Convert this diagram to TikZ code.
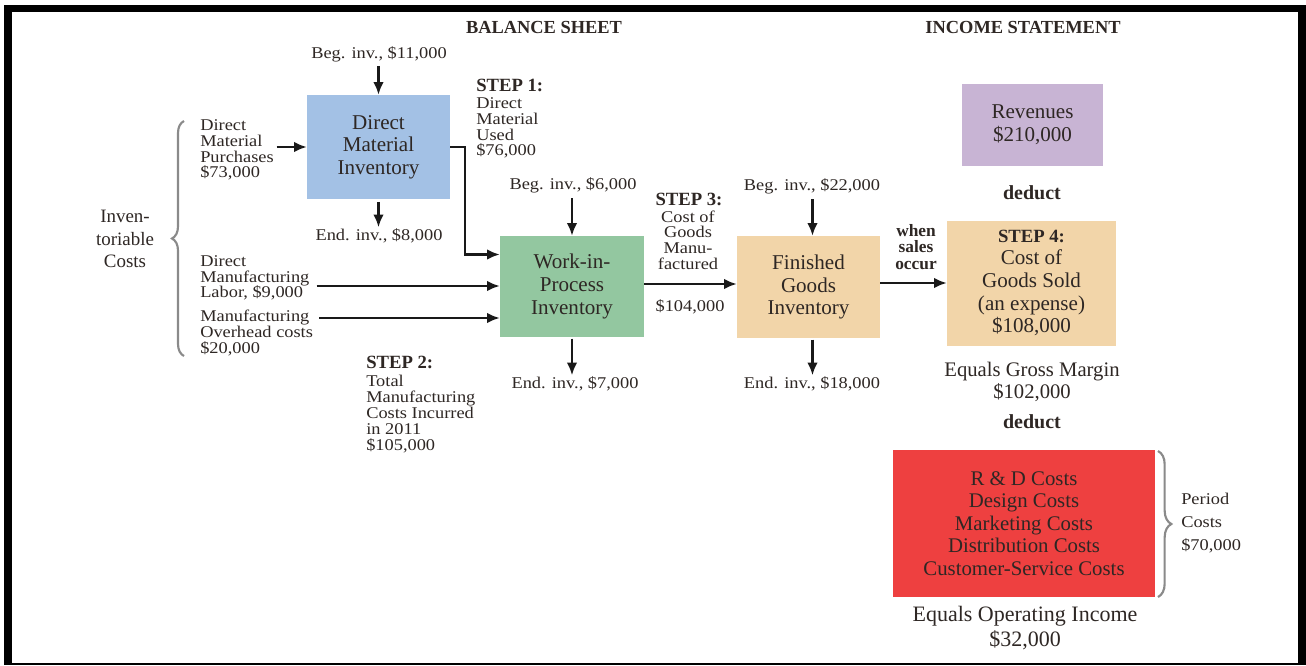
\documentclass[tikz,border=0pt]{standalone}
\usepackage{fontspec}
\setmainfont{Liberation Serif}
\newfontfamily\lblfont[FakeStretch=1.12]{Liberation Serif}
\usetikzlibrary{arrows.meta,decorations.pathreplacing,calc}
\definecolor{txt}{HTML}{2E2724}
\definecolor{dmblue}{HTML}{A3C1E5}
\definecolor{wipgreen}{HTML}{93C7A0}
\definecolor{fgtan}{HTML}{F2D5A9}
\definecolor{revpurple}{HTML}{C8B4D4}
\definecolor{pcred}{HTML}{EE4040}
\definecolor{bracegray}{HTML}{8A8A8A}
\begin{document}
\begin{tikzpicture}[x=0.75pt,y=-0.75pt,
  lbl/.style={font=\lblfont\fontsize{12.3}{11.8}\selectfont, text=txt, align=left, inner sep=0pt},
  clbl/.style={lbl, align=center},
  boxtext/.style={font=\fontsize{15.8}{17}\selectfont, text=txt, align=center, inner sep=0pt},
  hdr/.style={font=\bfseries\fontsize{13.8}{14}\selectfont, text=txt, inner sep=0pt},
  stephdr/.style={font=\bfseries\fontsize{14}{14}\selectfont, text=txt, inner sep=0pt},
  dedstyle/.style={font=\bfseries\fontsize{15}{15}\selectfont, text=txt, inner sep=0pt},
  arr/.style={line width=1.8pt, draw=black!90, -{Latex[length=9.5pt,width=8pt]}},
  bracestyle/.style={draw=bracegray, line width=1.6pt, decorate},
]
\useasboundingbox (0,0) rectangle (1306,665);
% frame
\fill[black] (4,5) rectangle (1306,665);
\fill[white] (12,12) rectangle (1298,663);

% headers
\node[hdr] (bs) at (544,27) {BALANCE SHEET};
\node[hdr] (is) at (1023,27) {INCOME STATEMENT};

% boxes
\node[boxtext, fill=dmblue, minimum width=107.25pt, minimum height=78pt] (dmi) at (378.5,147) {Direct\\Material\\Inventory};
\node[boxtext, fill=wipgreen, minimum width=108pt, minimum height=75.75pt] (wip) at (572,286.5) {Work-in-\\Process\\Inventory};
\node[boxtext, fill=fgtan, minimum width=107.25pt, minimum height=76.5pt] (fg) at (808.5,287) {Finished\\Goods\\Inventory};
\node[boxtext, fill=fgtan, minimum width=126.75pt, minimum height=93.75pt] (cogs) at (1031.5,283) {{\bfseries\fontsize{14}{17}\selectfont STEP 4:}\\Cost of\\Goods Sold\\(an expense)\\\$108,000};
\node[boxtext, fill=revpurple, minimum width=105.75pt, minimum height=61.5pt] (rev) at (1032.5,125) {Revenues\\\$210,000};
\node[boxtext, fill=pcred, minimum width=196.5pt, minimum height=110.25pt, font=\fontsize{15.6}{16.9}\selectfont] (pc) at (1024,523.5) {R \& D Costs\\Design Costs\\Marketing Costs\\Distribution Costs\\Customer-Service Costs};

% inventory labels
\node[clbl] (beg1) at (379,54) {Beg. inv., \$11,000};
\node[clbl] (end1) at (379,236) {End. inv., \$8,000};
\node[clbl] (beg2) at (573,185) {Beg. inv., \$6,000};
\node[clbl] (end2) at (575,384) {End. inv., \$7,000};
\node[clbl] (beg3) at (812,186) {Beg. inv., \$22,000};
\node[clbl] (end3) at (812,384) {End. inv., \$18,000};

% left labels
\node[lbl, anchor=west] (dmp) at (200,150) {Direct\\Material\\Purchases\\\$73,000};
\node[lbl, anchor=west] (dml) at (200,278) {Direct\\Manufacturing\\Labor, \$9,000};
\node[lbl, anchor=west] (moh) at (200,333) {Manufacturing\\Overhead costs\\\$20,000};
\node[font=\fontsize{14.2}{16.8}\selectfont, text=txt, align=center, inner sep=0pt] (inv) at (125,239) {Inven-\\toriable\\Costs};

% steps
\node[stephdr, anchor=west] (s1h) at (476,85) {STEP 1:};
\node[lbl, anchor=west] (s1b) at (476,128) {Direct\\Material\\Used\\\$76,000};
\node[stephdr, anchor=west] (s2h) at (366,362) {STEP 2:};
\node[lbl, anchor=west, font=\lblfont\fontsize{12.3}{12}\selectfont] (s2b) at (366,414) {Total\\Manufacturing\\Costs Incurred\\in 2011\\\$105,000};
\node[stephdr] (s3h) at (689,199) {STEP 3:};
\node[clbl] (s3b) at (688,240) {Cost of\\Goods\\Manu-\\factured};
\node[clbl] (amt3) at (690,307) {\$104,000};
\node[clbl, font=\bfseries\fontsize{13}{12.4}\selectfont] (when) at (916,247) {when\\sales\\occur};

% income statement texts
\node[dedstyle] (ded1) at (1032,193) {deduct};
\node[font=\fontsize{15.5}{16}\selectfont, text=txt, align=center, inner sep=0pt] (gm) at (1032,382) {Equals Gross Margin\\\$102,000};
\node[dedstyle] (ded2) at (1032,422) {deduct};
\node[font=\fontsize{16.5}{18.5}\selectfont, text=txt, align=center, inner sep=0pt] (oi) at (1025,628) {Equals Operating Income\\\$32,000};
\node[lbl, anchor=west, font=\lblfont\fontsize{12.3}{17}\selectfont] (per) at (1181,523) {Period\\Costs\\\$70,000};

% braces
\draw[bracestyle, decoration={brace, amplitude=9pt}] (184,356) -- (184,121);
\draw[bracestyle, decoration={brace, amplitude=10pt}] (1158,451) -- (1158,597);

% arrows
\draw[arr, shorten <=3pt] (dmi.north |- beg1.south) -- (dmi.north);
\draw[arr, shorten <=2pt, shorten >=1pt] (dmi.south) -- (dmi.south |- end1.north);
\draw[arr, shorten <=4pt] (wip.north |- beg2.south) -- (wip.north);
\draw[arr, shorten <=1pt, shorten >=1pt] (wip.south) -- (wip.south |- end2.north);
\draw[arr, shorten <=4pt] ([xshift=3pt]fg.north |- beg3.south) -- ([xshift=3pt]fg.north);
\draw[arr, shorten <=1pt, shorten >=1pt] ([xshift=3pt]fg.south) -- ([xshift=3pt]fg.south |- end3.north);

\draw[arr, shorten <=2pt] (dmp.east |- dmi.west) -- (dmi.west);
\coordinate (wipIn) at ($(wip.west)+(0,-32)$);
\draw[arr] (dmi.east) -- ++(15,0) |- (wipIn);
\coordinate (dmlA) at ($(dml.east)+(7,8)$);
\draw[arr] (dmlA) -- (dmlA -| wip.west);
\coordinate (mohA) at ($(moh.east)+(6,-15)$);
\draw[arr] (mohA) -- (mohA -| wip.west);
\draw[arr] (wip.east |- 0,284) -- (fg.west |- 0,284);
\draw[arr] (fg.east |- 0,283) -- (cogs.west |- 0,283);
\end{tikzpicture}
\end{document}
